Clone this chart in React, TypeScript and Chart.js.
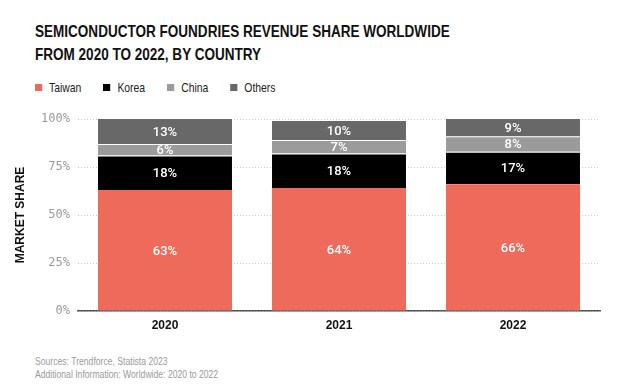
import React, { useEffect, useRef } from "react";
import { Chart, registerables } from "chart.js";

Chart.register(...registerables);

const categories = ["2020", "2021", "2022"];
const taiwan = [63, 64, 66];
const korea = [18, 18, 17];
const china = [6, 7, 8];
const others = [13, 10, 9];
const seriesNames = ["Taiwan", "Korea", "China", "Others"];
const seriesColors = ["#EE6A5A", "#000000", "#9B9B9B", "#686868"];
const seriesTopEdge = [0, 1, 1, 0];
const yTicks = [0, 25, 50, 75, 100];

const SANS = "'Liberation Sans', Arial, sans-serif";
const SQ = 0.82; // horizontal condensing of the narrow grotesque look

const barLabels = {
  id: "barLabels",
  afterDatasetsDraw(chart: any) {
    const ctx = chart.ctx;
    ctx.save();
    ctx.font = "500 13px Roboto";
    ctx.fillStyle = "#ffffff";
    ctx.textAlign = "center";
    ctx.textBaseline = "middle";
    chart.data.datasets.forEach((ds: any, di: number) => {
      const meta = chart.getDatasetMeta(di);
      meta.data.forEach((el: any, i: number) => {
        const { x, y, base } = el.getProps(["x", "y", "base"], true);
        ctx.fillText(ds.data[i] + "%", x, (y + base) / 2 + 1);
      });
    });
    ctx.restore();
  },
};

export default function App() {
  const ref = useRef<HTMLCanvasElement | null>(null);

  useEffect(() => {
    document.body.style.margin = "0";
    const canvas = ref.current;
    if (!canvas) return;
    const series = [taiwan, korea, china, others];
    const chart = new Chart(canvas, {
      type: "bar",
      data: {
        labels: categories,
        datasets: series.map((d, i) => ({
          label: seriesNames[i],
          data: d,
          backgroundColor: seriesColors[i],
          borderColor: "rgba(255,255,255,0.45)",
          borderWidth: { top: seriesTopEdge[i], right: 0, bottom: 0, left: 0 },
          borderSkipped: "start",
          barPercentage: 0.77,
          categoryPercentage: 1,
        })),
      },
      options: {
        animation: false,
        responsive: false,
        maintainAspectRatio: false,
        layout: { padding: { left: 0, right: 24, top: 19, bottom: 0 } },
        plugins: {
          legend: { display: false },
          tooltip: { enabled: false },
          title: { display: false },
        },
        scales: {
          x: {
            stacked: true,
            grid: { display: false, drawTicks: false },
            border: { display: true, color: "#555555", width: 1.5 },
            ticks: {
              color: "#111111",
              font: { family: SANS, weight: "bold", size: 12 },
              padding: 7,
            },
            afterFit: (s: any) => {
              s.height = 29;
            },
          },
          y: {
            stacked: true,
            min: 0,
            max: 100,
            afterBuildTicks: (s: any) => {
              s.ticks = yTicks.map((v) => ({ value: v }));
            },
            ticks: {
              callback: (v: any) => v + "%",
              color: "#9a9a9a",
              font: { family: "'DejaVu Sans Mono', monospace", size: 12 },
              padding: 8,
            },
            grid: { color: "#c8c8c8", lineWidth: 1, drawTicks: false },
            border: { display: false, dash: [1, 2] },
            title: {
              display: true,
              text: "MARKET SHARE",
              color: "#111111",
              font: { family: SANS, weight: "bold", size: 12 },
              padding: { top: 13, bottom: 0 },
            },
            afterFit: (s: any) => {
              s.width = 78;
            },
          },
        },
      } as any,
      plugins: [barLabels],
    });
    return () => chart.destroy();
  }, []);

  const squeeze: React.CSSProperties = {
    transform: `scaleX(${SQ})`,
    transformOrigin: "0 0",
    whiteSpace: "nowrap",
  };

  return (
    <div style={{ position: "relative", width: 624, height: 385, fontFamily: SANS, background: "#fff" }}>
      <div
        style={{
          position: "absolute",
          left: 35,
          top: 20,
          fontSize: 16.5,
          lineHeight: "23px",
          fontWeight: "bold",
          color: "#111",
          ...squeeze,
        }}
      >
        <div>SEMICONDUCTOR FOUNDRIES REVENUE SHARE WORLDWIDE</div>
        <div>FROM 2020 TO 2022, BY COUNTRY</div>
      </div>
      <div
        style={{
          position: "absolute",
          left: 35,
          top: 80,
          height: 14,
          display: "flex",
          alignItems: "center",
          fontSize: 13,
          color: "#222",
          ...squeeze,
          transform: "scaleX(0.8)",
        }}
      >
        {seriesNames.map((n, i) => (
          <div key={n} style={{ display: "flex", alignItems: "center", marginRight: 22 / 0.8 }}>
            <span
              style={{
                display: "inline-block",
                width: 7 / 0.8,
                height: 7,
                background: seriesColors[i],
                marginRight: 7 / 0.8,
              }}
            />
            <span>{n}</span>
          </div>
        ))}
      </div>
      <canvas
        ref={ref}
        width={624}
        height={240}
        style={{ position: "absolute", left: 0, top: 100, width: 624, height: 240 }}
      />
      <div
        style={{
          position: "absolute",
          left: 35,
          top: 355,
          fontSize: 10.5,
          lineHeight: "12.5px",
          color: "#9a9a9a",
          ...squeeze,
        }}
      >
        <div>Sources: Trendforce, Statista 2023</div>
        <div>Additional Information: Worldwide: 2020 to 2022</div>
      </div>
    </div>
  );
}
